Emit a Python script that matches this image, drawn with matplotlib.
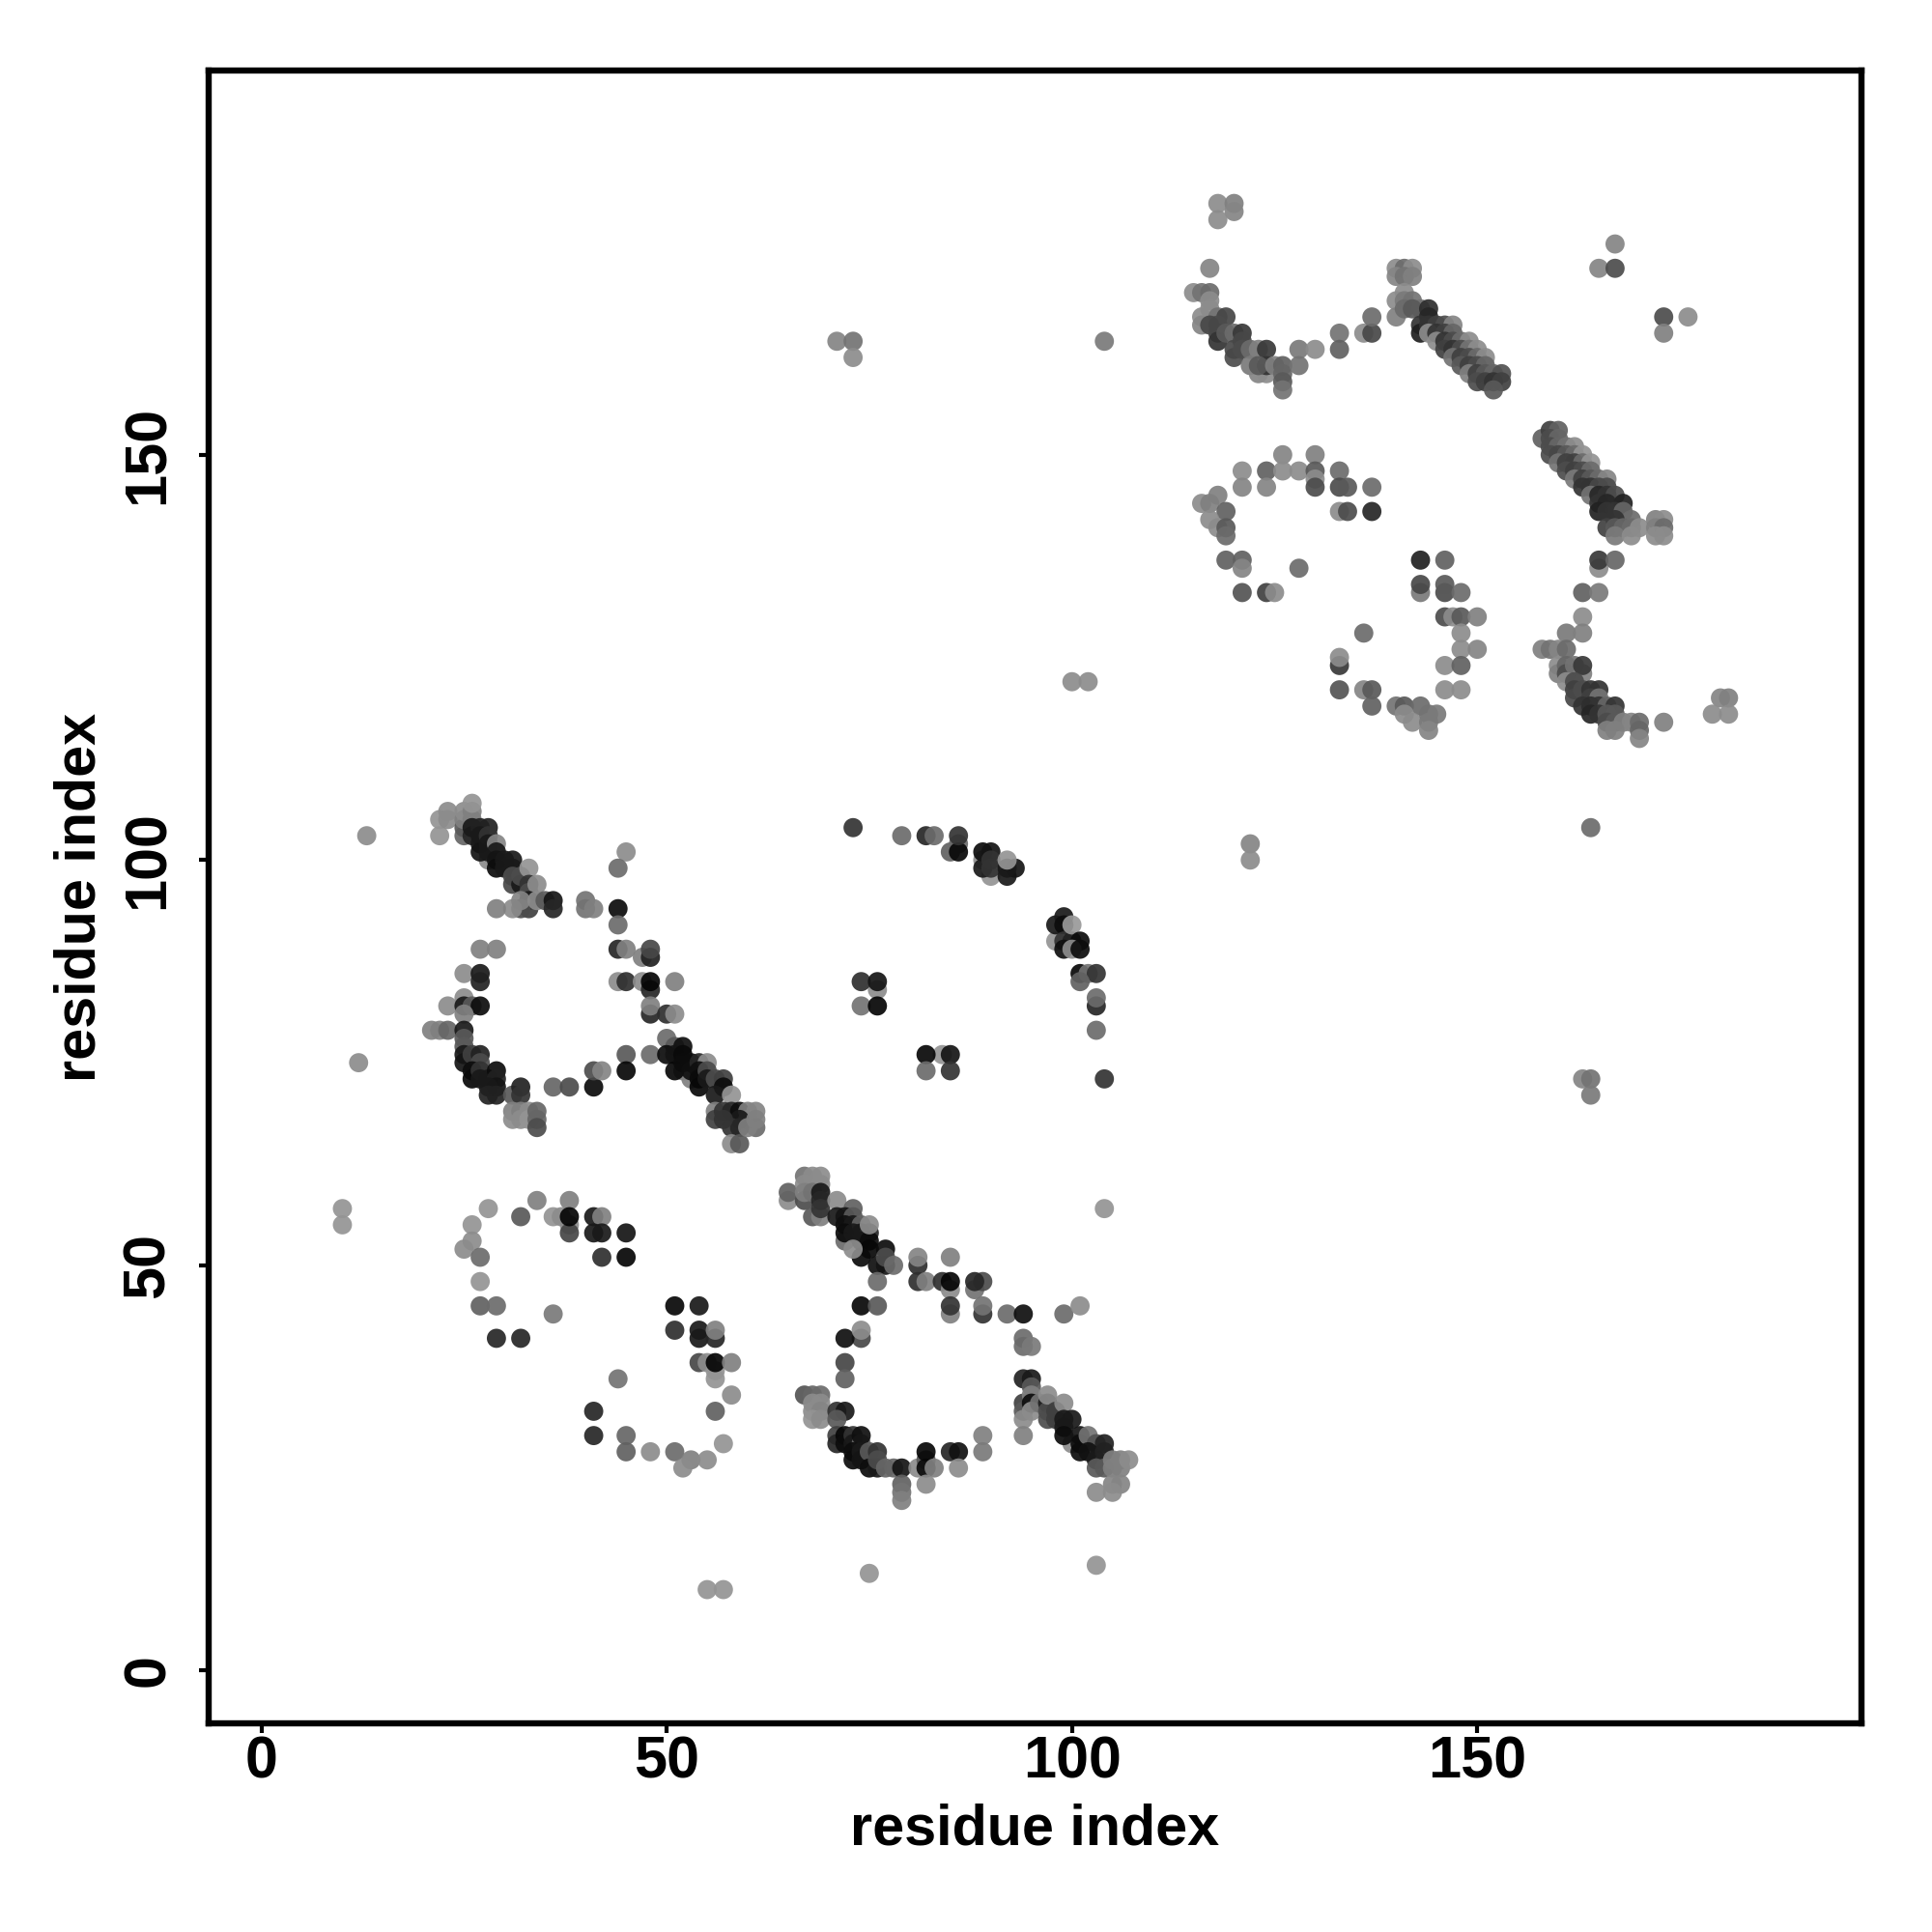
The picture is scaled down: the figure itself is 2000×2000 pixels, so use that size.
import numpy as np
import matplotlib
matplotlib.use('Agg')
import matplotlib.pyplot as plt

plt.rcParams['font.family'] = ['Liberation Sans', 'DejaVu Sans']

# contacts: residue i, residue j, grey level of the dot
helix_a_x = [22,22,23,23,25,25,25,25,26,26,26,26,26,
             28,27,28,27,27,27,28,28,28,29,29,29,29,
             30,31,31,30,31,31,32,32,33,33,33,34,33,33,32,31,29,32,34,35,36,36]
helix_a_y = [103,105,106,105,103,104,105,106,105,106,103,104,107,
             100,104,104,103,102,101,103,102,101,102,101,100,99,
             100,100,99,99,98,97,97,98,99,97,96,97,95,94,94,94,94,95,95,95,95,94]
helix_a_g = [.58,.58,.55,.55,.4,.35,.5,.55,.5,.5,.15,.1,.58,
             .55,.13,.13,.1,.1,.08,.2,.1,.1,.52,.1,.08,.05,
             .1,.1,.1,.1,.3,.28,.1,.3,.58,.2,.3,.55,.1,.25,.3,.55,.5,.52,.55,.35,.08,.15]

link_a_x = [40,40,41,45,44,44,44,44,45,47,48,48,27,29,
            25,27,27,25,23,25,26,27,25,44,45,47,48,48,51,48,48,50,51]
link_a_y = [95,94,94,101,99,94,92,89,89,88,88,89,89,89,
            86,86,85,83,82,82,82,82,81,85,85,85,84,85,85,81,82,81,81]
link_a_g = [.45,.45,.5,.55,.42,.05,.42,.15,.5,.5,.13,.28,.5,.5,
            .55,.1,.13,.55,.55,.1,.35,.05,.5,.55,.18,.55,.15,.02,.5,.15,.5,.18,.55]

loop_a_x = [21,22,23,25,25,25,25,25,26,27,27,26,26,27,27,28,29,29,29,28,28,29,31,32,32,
            36,38,41,41,42,45,45,48,31,31,32,33,32,33,34,34,34]
loop_a_y = [79,79,79,79,78,77,76,75,76,76,75,74,73,74,73,73,74,73,72,72,71,71,71,72,71,
            72,72,72,74,74,76,74,76,69,68,69,69,68,68,69,68,67]
loop_a_g = [.5,.5,.4,.1,.35,.35,.1,.08,.25,.13,.3,.05,.03,.2,.1,.1,.05,.13,.08,.1,.13,.13,.35,.13,.2,
            .4,.3,.04,.3,.52,.35,.03,.42,.5,.55,.5,.55,.55,.58,.4,.4,.3]

helix_b_x = [52,53,50,51,52,50,51,52,51,52,53,53,54,55,54,54,54,55,55,56,57,57,56,58,
             56,56,57,58,59,60,61,60,61,59,58,59,58,59,60,57,61]
helix_b_y = [74,73,78,77,77,76,76,76,74,75,75,74,75,75,74,73,72,74,73,73,73,72,71,71,
             69,68,69,69,69,69,69,68,67,68,67,67,65,65,67,68,68]
helix_b_g = [.5,.5,.42,.35,.06,.05,.08,.04,.03,.05,.05,.06,.15,.55,.06,.04,.03,.3,.1,.3,.25,.05,.1,.58,
             .5,.25,.2,.15,.05,.5,.52,.52,.42,.1,.2,.15,.55,.35,.5,.2,.5]

small_a_x = [76,74,76,74,76,84,82,85,82,85,104,12,13,10,10]
small_a_y = [84,85,85,82,82,76,76,76,74,74,57,75,103,57,55]
small_a_g = [.55,.18,.08,.45,.02,.58,.03,.08,.42,.2,.58,.55,.55,.58,.58]

arc_c_x = [28,32,34,38,36,37,38,38,38,41,42,41,42,45,42,45,
           26,26,25,27,27,27,29,36,29,32]
arc_c_y = [57,56,58,58,56,56,55,54,56,56,56,54,54,54,51,51,
           55,53,52,51,48,45,45,44,41,41]
arc_c_g = [.58,.35,.5,.5,.58,.55,.55,.27,.02,.1,.5,.1,.1,.08,.18,.02,
           .58,.55,.55,.42,.58,.38,.42,.48,.15,.15]

arc_d_x = [51,54,51,54,54,56,56,54,55,56,56,56,58,44,58,56,41,41,45,45,48,51,53,52,55,57,55,57]
arc_d_y = [45,45,42,42,41,41,42,38,38,37,36,38,38,36,34,32,32,29,29,27,27,27,26,25,26,28,10,10]
arc_d_g = [.03,.1,.18,.1,.1,.15,.5,.28,.55,.58,.58,.02,.5,.45,.55,.38,.15,.15,.4,.38,.55,.42,.5,.55,.55,.58,.58,.58]

helix_e_x = [65,65,67,68,69,67,68,69,67,68,69,67,68,69,69,69,
             72,71,73,71,72,73,72,73,72,74,73,74,75,74,75,75,75,74,73,77,76,77,77,78]
helix_e_y = [58,59,61,61,61,60,60,60,58,56,56,59,59,59,58,57,
             53,58,57,56,56,56,55,55,54,55,54,54,54,53,53,55,52,51,52,52,50,50,51,50]
helix_e_g = [.55,.38,.45,.55,.55,.55,.55,.55,.3,.35,.5,.5,.45,.1,.15,.2,
             .42,.55,.38,.1,.08,.35,.06,.1,.05,.38,.1,.1,.15,.1,.05,.55,.03,.04,.55,.05,.06,.08,.3,.42]

link_e_x = [76,74,76,74,72,74,72,72,81,81,81,82,84,85,85,85,85,85,88,89,88,89,89,92,94,99,101,
            94,94,95,94,95,95]
link_e_y = [48,45,45,41,41,42,38,36,50,51,48,48,48,47,48,51,44,45,47,48,48,44,45,44,44,44,45,
            41,40,40,36,36,35]
link_e_g = [.42,.03,.35,.28,.06,.55,.27,.38,.18,.52,.18,.5,.18,.55,.02,.5,.5,.2,.45,.3,.15,.2,.45,.42,.06,.42,.55,
            .42,.42,.48,.13,.1,.35]

loop_f_x = [67,68,69,68,69,68,69,68,69,71,72,71,71,71,72,72,73,73,74,74,73,73,74,74,75,76,
            75,76,76,77,78,79,79,79,79,81,82,82,82,83,82,85,86,86,89,89,75,103]
loop_f_y = [34,34,34,33,33,32,32,31,31,32,32,31,29,28,29,28,29,28,28,29,27,26,27,26,27,27,
            25,25,26,25,25,25,23,22,21,25,26,25,27,25,23,27,27,25,29,27,12,13]
loop_f_g = [.33,.4,.42,.55,.55,.55,.52,.58,.55,.2,.1,.35,.25,.15,.03,.05,.2,.1,.4,.06,.05,.04,.1,.08,.35,.2,
            .05,.1,.3,.4,.4,.08,.38,.45,.5,.55,.35,.05,.03,.5,.55,.15,.07,.55,.5,.48,.58,.58]

helix_g_x = [94,94,94,94,95,95,95,96,97,97,97,97,98,98,100,99,99,100,99,99,101,101,101,102,
             103,104,102,103,104,103,104,105,106,105,106,107,105,106,103,105]
helix_g_y = [33,32,31,29,34,33,32,33,33,32,31,34,32,31,28,33,31,31,30,29,29,28,27,29,
             28,28,27,26,27,25,25,26,26,25,25,26,23,23,22,22]
helix_g_g = [.25,.35,.55,.5,.5,.05,.55,.45,.12,.3,.3,.55,.25,.25,.55,.55,.1,.1,.1,.05,.08,.05,.05,.45,
             .32,.13,.07,.1,.13,.35,.35,.5,.5,.5,.5,.55,.52,.52,.55,.55]

arc_h_x = [73,79,82,83,85,86,86,86,89,90,89,90,89,90,90,92,93,92,92,
           98,98,99,99,99,100,100,101,99,100,101,101,102,103,101,103,103,103,104]
arc_h_y = [104,103,103,103,101,102,101,103,100,98,101,101,99,100,99,98,99,99,100,
           90,92,93,92,90,90,92,90,89,89,89,86,86,86,85,82,83,79,73]
arc_h_g = [.2,.42,.15,.42,.38,.42,.03,.2,.55,.58,.05,.08,.1,.2,.2,.1,.08,.1,.58,
           .58,.1,.1,.05,.2,.13,.6,.05,.06,.55,.05,.03,.45,.2,.38,.15,.42,.42,.2]

small_b_x = [163,164,164,164,122,122,100,102,71,73,73,104,167,165,167,173,173,176]
small_b_y = [73,73,71,104,102,100,122,122,164,164,162,164,176,173,173,167,165,167]
small_b_g = [.52,.45,.48,.42,.52,.55,.55,.55,.52,.45,.55,.48,.52,.52,.3,.3,.5,.55]

helix_i_x = [118,120,120,118,117,115,116,117,117,116,116,117,118,119,118,117,118,118,119,120,121,
             120,121,120,121,122,123,124,122,123,124,124,123,125,126,126,126,126,128,130,128,133,133,136,137,137]
helix_i_y = [181,181,180,179,173,170,170,170,169,167,166,168,167,167,166,166,165,164,165,165,165,
             162,164,163,163,163,163,163,161,160,160,161,161,161,161,160,159,158,163,163,161,165,163,165,165,167]
helix_i_g = [.55,.5,.52,.55,.52,.55,.45,.42,.55,.55,.52,.55,.45,.27,.3,.28,.28,.2,.35,.42,.22,
             .3,.28,.28,.3,.42,.5,.22,.48,.52,.55,.2,.35,.5,.38,.4,.35,.45,.48,.55,.45,.45,.38,.55,.28,.42]

helix_j_x = [140,141,142,140,141,142,141,140,141,142,140,141,143,142,144,144,143,143,144,
             145,146,147,144,145,146,147,145,146,147,148,149,146,147,148,149,150,
             147,148,149,150,151,148,149,150,151,149,150,151,152,153,150,151,152,153,152]
helix_j_y = [173,173,173,172,172,172,170,169,169,169,167,168,168,168,168,167,166,165,166,
             166,166,166,165,165,165,165,164,164,164,164,164,163,163,163,163,163,
             162,162,162,162,162,161,161,161,161,160,160,160,160,160,159,159,159,159,158]
helix_j_g = [.55,.42,.55,.52,.45,.5,.55,.55,.48,.45,.5,.42,.45,.35,.18,.15,.2,.12,.2,
             .25,.3,.52,.55,.2,.25,.4,.55,.2,.3,.42,.55,.25,.2,.3,.45,.55,
             .45,.25,.3,.42,.55,.35,.25,.3,.4,.5,.25,.35,.4,.32,.3,.25,.2,.25,.35]

arc_k_x = [126,130,121,124,126,128,130,133,130,130,121,124,133,134,137,133,134,137,
           116,117,118,119,117,118,119,119,119,121,121,128,121,124,125]
arc_k_y = [150,150,148,148,148,148,148,148,147,146,146,146,146,146,146,143,143,143,
           144,144,145,143,142,141,141,140,137,137,136,136,133,133,133]
arc_k_g = [.52,.5,.55,.38,.55,.55,.35,.42,.55,.3,.52,.52,.3,.35,.42,.55,.3,.15,
           .55,.5,.5,.38,.55,.55,.35,.42,.38,.38,.52,.42,.33,.25,.55]

arc_l_x = [143,146,143,143,146,146,148,146,147,148,150,148,148,150,146,148,146,148,
           136,133,133,133,136,137,137,140,141,143,141,142,144,145,144,144]
arc_l_y = [137,137,133,134,133,134,133,130,130,130,130,128,126,126,124,124,121,121,
           128,124,125,121,121,121,119,119,119,119,118,117,118,118,117,116]
arc_l_g = [.13,.38,.48,.28,.3,.35,.42,.3,.55,.35,.5,.55,.55,.52,.55,.38,.55,.55,
           .42,.22,.55,.33,.52,.35,.38,.45,.35,.42,.55,.55,.45,.48,.48,.52]

helix_m_x = [158,159,160,159,160,159,160,161,162,159,160,161,162,163,160,161,162,163,164,
             161,162,163,164,162,163,164,165,166,163,164,165,166,164,165,166,167,
             168,165,166,165,166,167,168,169,167,166,167,168,169,170,167,169,172,173,172,173,172,173]
helix_m_y = [152,153,153,152,152,151,151,151,151,150,150,150,150,150,149,149,149,149,149,
             148,148,148,148,147,147,147,147,147,146,146,146,146,145,145,145,145,
             144,144,144,143,143,143,143,142,142,141,141,141,141,141,140,140,142,142,141,141,140,140]
helix_m_g = [.38,.25,.38,.3,.4,.3,.4,.45,.55,.3,.28,.35,.42,.58,.45,.25,.25,.42,.58,
             .3,.25,.3,.42,.48,.25,.35,.42,.52,.2,.2,.28,.3,.45,.15,.2,.3,
             .13,.2,.15,.13,.2,.2,.4,.42,.2,.25,.35,.4,.42,.55,.48,.55,.5,.55,.5,.42,.55,.55]

helix_n_x = [165,165,167,163,165,163,161,163,
             158,159,160,161,160,160,161,161,162,163,163,161,162,162,162,163,164,165,164,165,
             163,164,165,166,167,164,165,166,167,166,167,168,169,170,170,170,166,167,173,180,181,179,181]
helix_n_y = [136,137,137,133,133,130,128,128,
             126,126,126,126,124,123,124,123,124,123,124,122,122,121,120,121,121,121,120,120,
             119,119,119,119,119,118,118,118,118,117,117,117,117,117,116,115,116,116,117,120,120,118,118]
helix_n_g = [.55,.22,.4,.38,.48,.55,.48,.5,
             .5,.45,.52,.42,.55,.5,.4,.3,.45,.5,.22,.55,.3,.25,.28,.3,.2,.2,.25,.45,
             .2,.18,.2,.4,.2,.15,.2,.35,.35,.3,.35,.5,.52,.42,.4,.52,.5,.5,.5,.52,.5,.55,.55]

groups = [
    (helix_a_x, helix_a_y, helix_a_g), (link_a_x, link_a_y, link_a_g),
    (loop_a_x, loop_a_y, loop_a_g), (helix_b_x, helix_b_y, helix_b_g),
    (small_a_x, small_a_y, small_a_g), (arc_c_x, arc_c_y, arc_c_g),
    (arc_d_x, arc_d_y, arc_d_g), (helix_e_x, helix_e_y, helix_e_g),
    (link_e_x, link_e_y, link_e_g), (loop_f_x, loop_f_y, loop_f_g),
    (helix_g_x, helix_g_y, helix_g_g), (arc_h_x, arc_h_y, arc_h_g),
    (small_b_x, small_b_y, small_b_g), (helix_i_x, helix_i_y, helix_i_g),
    (helix_j_x, helix_j_y, helix_j_g), (arc_k_x, arc_k_y, arc_k_g),
    (arc_l_x, arc_l_y, arc_l_g), (helix_m_x, helix_m_y, helix_m_g),
    (helix_n_x, helix_n_y, helix_n_g),
]

fig = plt.figure(figsize=(10, 10), dpi=200)
ax = fig.add_axes([216/2000, 1-1784/2000, (1927-216)/2000, (1784-73)/2000])

for gx, gy, gg in groups:
    rows = list(zip(gx, gy, gg, strict=True))
    xs, ys, greys = map(np.array, zip(*rows))
    ax.scatter(xs, ys, c=greys, cmap='gray', vmin=0, vmax=1, s=51, alpha=0.92,
               linewidths=0)

ax.set_xlim(-6.5, 197.4)
ax.set_ylim(-6.5, 197.4)

ticks = [0, 50, 100, 150]
ax.set_xticks(ticks)
ax.set_yticks(ticks)
ax.tick_params(length=3.5, width=1.5, labelsize=22)
ax.tick_params(axis='x', pad=1)
ax.tick_params(axis='y', pad=8.5)
for lab in ax.get_xticklabels() + ax.get_yticklabels():
    lab.set_fontweight('bold')
for lab in ax.get_yticklabels():
    lab.set_rotation(90)
    lab.set_va('center')
for s in ax.spines.values():
    s.set_linewidth(2.3)

ax.set_xlabel('residue index', fontsize=21.4, fontweight='bold', labelpad=4.5)
ax.set_ylabel('residue index', fontsize=21.4, fontweight='bold', labelpad=5.5)

plt.savefig('out.png', dpi=200)
